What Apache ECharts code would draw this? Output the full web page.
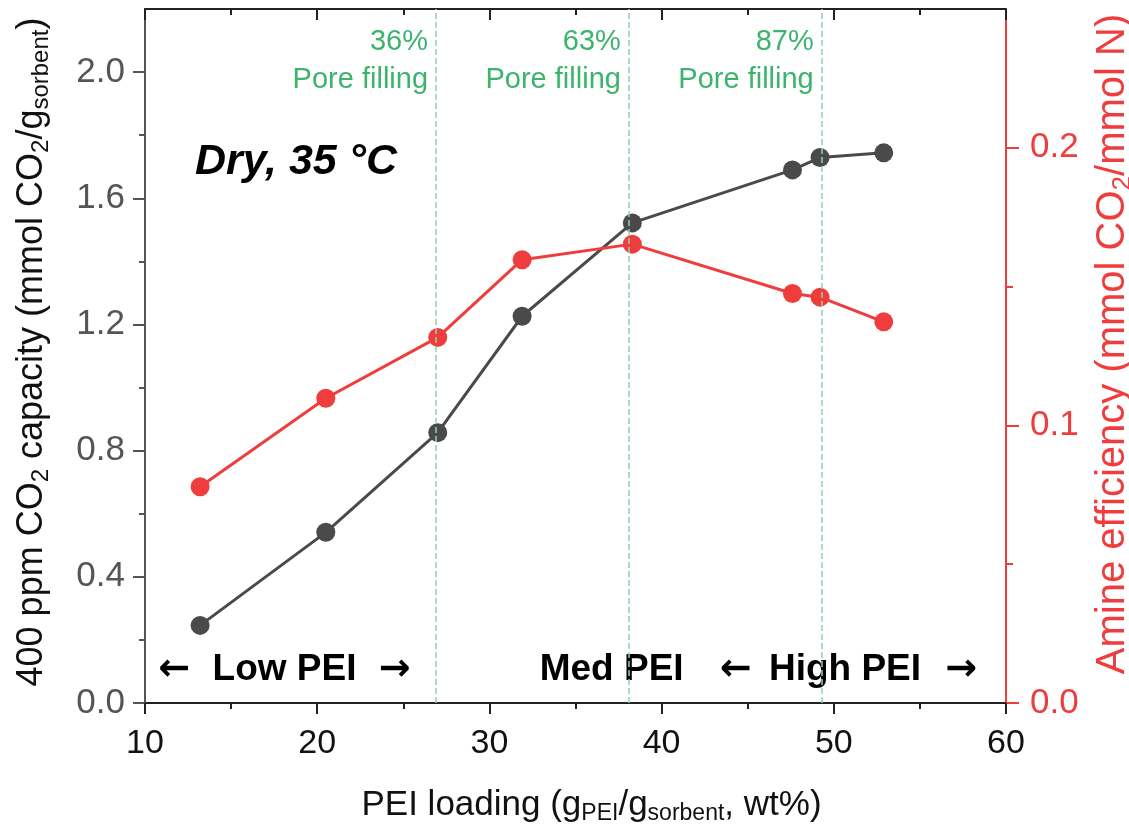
<!DOCTYPE html>
<html>
<head>
    <meta charset="utf-8">
    <title>PEI loading</title>
    <script src="https://cdn.jsdelivr.net/npm/echarts@6/dist/echarts.min.js"></script>
    <style>
        html, body { margin: 0; padding: 0; background: #fff; }
        #chart1 { width: 1129px; height: 836px; }
    </style>
</head>
<body>
<div id="chart1"></div>
<script>
    // PEI loading (wt%)
    var peiLoading = [13.2, 20.5, 27.0, 31.9, 38.3, 47.6, 49.2, 52.9];
    // 400 ppm CO2 capacity (mmol/g)
    var capacity = [0.246, 0.541, 0.857, 1.226, 1.522, 1.690, 1.729, 1.744];
    // amine efficiency (mmol CO2 / mmol N)
    var efficiency = [0.0779, 0.1098, 0.1317, 0.1597, 0.1653, 0.1475, 0.1462, 0.1373];
    // pore filling lines
    var poreX = [26.9, 38.1, 49.3];
    var poreLabels = ['36%', '63%', '87%'];
    // ticks
    var leftMajor = [0, 0.4, 0.8, 1.2, 1.6, 2.0];
    var leftMinor = [0.2, 0.6, 1.0, 1.4, 1.8];
    var rightMajor = [0, 0.1, 0.2];
    var rightMinor = [0.05, 0.15];

    var FONT = '"Liberation Sans", Arial, Helvetica, sans-serif';
    var BLACK = '#4a4a4a';
    var RED = '#ef3d3d';
    var GREEN = '#3cb46e';

    function zip(xs, ys) {
        return xs.map(function (x, i) { return [x, ys[i]]; });
    }

    var myChart1 = echarts.init(document.getElementById('chart1'));

    function subRich(color, size) {
        return { sub: { fontSize: size, verticalAlign: 'bottom', lineHeight: size + 2, color: color, fontFamily: FONT } };
    }

    myChart1.setOption({
        animation: false,
        textStyle: { fontFamily: FONT },
        grid: { left: 145, right: 123, top: 9, bottom: 133, outerBoundsMode: 'none', containLabel: false },
        xAxis: [
            {
                type: 'value', position: 'bottom', min: 10, max: 60, interval: 10,
                axisLine: { onZero: false, lineStyle: { color: '#222', width: 2 } },
                axisTick: { length: 11, lineStyle: { color: '#222', width: 2 } },
                minorTick: { show: true, splitNumber: 2, length: 6, lineStyle: { color: '#222', width: 2 } },
                splitLine: { show: false },
                axisLabel: { fontSize: 34, color: '#111', margin: 24, fontFamily: FONT },
                name: 'PEI loading (g{sub|PEI}/g{sub|sorbent}, wt%)',
                nameLocation: 'middle', nameGap: 82,
                nameTextStyle: {
                    fontSize: 35, color: '#111', lineHeight: 40, fontFamily: FONT,
                    padding: [0, 0, 0, 32], rich: subRich('#111', 23)
                }
            },
            {
                type: 'value', position: 'top', min: 10, max: 60, interval: 10,
                axisLine: { onZero: false, lineStyle: { color: '#222', width: 2 } },
                axisTick: { inside: true, length: 11, lineStyle: { color: '#222', width: 2 } },
                minorTick: { show: true, splitNumber: 2, length: 6, lineStyle: { color: '#222', width: 2 } },
                splitLine: { show: false },
                axisLabel: { show: false }
            }
        ],
        yAxis: [
            {
                type: 'value', position: 'left', min: 0, max: 2.2,
                axisLine: { show: true, onZero: false, lineStyle: { color: '#555', width: 2 } },
                axisTick: { show: true, length: 12, customValues: leftMajor, lineStyle: { color: '#555', width: 2 } },
                splitLine: { show: false },
                axisLabel: {
                    fontSize: 35, color: '#555', margin: 20, customValues: leftMajor, fontFamily: FONT,
                    formatter: function (v) { return v.toFixed(1); }
                },
                name: '400 ppm CO{sub|2} capacity (mmol CO{sub|2}/g{sub|sorbent})',
                nameLocation: 'middle', nameGap: 92, nameRotate: 90,
                nameTextStyle: {
                    fontSize: 36, color: '#111', lineHeight: 42, fontFamily: FONT,
                    padding: [0, 0, 0, 8], rich: subRich('#111', 24)
                }
            },
            {
                type: 'value', position: 'right', min: 0, max: 0.25,
                axisLine: { show: true, onZero: false, lineStyle: { color: RED, width: 2 } },
                axisTick: { show: true, length: 13, customValues: rightMajor, lineStyle: { color: RED, width: 2 } },
                splitLine: { show: false },
                axisLabel: {
                    fontSize: 35, color: RED, margin: 24, customValues: rightMajor, fontFamily: FONT,
                    formatter: function (v) { return v.toFixed(1); }
                },
                name: 'Amine efficiency (mmol CO{sub|2}/mmol N)',
                nameLocation: 'middle', nameGap: 80, nameRotate: 90,
                nameTextStyle: {
                    fontSize: 40, color: RED, lineHeight: 46, fontFamily: FONT,
                    padding: [0, 0, 0, 24], rich: subRich(RED, 26)
                }
            },
            {
                type: 'value', position: 'left', min: 0, max: 2.2,
                axisLine: { show: false, onZero: false },
                axisTick: { show: true, length: 6, customValues: leftMinor, lineStyle: { color: '#555', width: 2 } },
                splitLine: { show: false },
                axisLabel: { show: false }
            },
            {
                type: 'value', position: 'right', min: 0, max: 0.25,
                axisLine: { show: false, onZero: false },
                axisTick: { show: true, length: 7, customValues: rightMinor, lineStyle: { color: RED, width: 2 } },
                splitLine: { show: false },
                axisLabel: { show: false }
            }
        ],
        series: [
            {
                name: 'capacity', type: 'line', xAxisIndex: 0, yAxisIndex: 0, z: 3,
                data: zip(peiLoading, capacity),
                symbol: 'circle', symbolSize: 19,
                itemStyle: { color: BLACK },
                lineStyle: { color: BLACK, width: 3 },
                markLine: {
                    silent: true, symbol: 'none', label: { show: false },
                    lineStyle: { color: '#8dd4ac', type: 'dashed', width: 1.5 },
                    data: poreX.map(function (x) { return { xAxis: x }; })
                }
            },
            {
                name: 'efficiency', type: 'line', xAxisIndex: 0, yAxisIndex: 1, z: 4,
                data: zip(peiLoading, efficiency),
                symbol: 'circle', symbolSize: 19,
                itemStyle: { color: RED },
                lineStyle: { color: RED, width: 3 }
            }
        ]
    });

    // text annotations, placed in data coordinates
    function px(x, y) {
        return myChart1.convertToPixel({ xAxisIndex: 0, yAxisIndex: 0 }, [x, y]);
    }
    var graphics = [];
    poreX.forEach(function (x, i) {
        var p = px(x, 2.035);
        graphics.push({
            type: 'text', x: p[0] - 8, y: p[1],
            style: {
                text: poreLabels[i] + '\nPore filling', align: 'right', verticalAlign: 'middle',
                fill: GREEN, font: '29px ' + FONT, lineHeight: 38
            }
        });
    });
    var d = px(12.9, 1.715);
    graphics.push({
        type: 'text', x: d[0], y: d[1],
        style: { text: 'Dry, 35 °C', align: 'left', verticalAlign: 'middle', fill: '#000', font: 'italic bold 43px ' + FONT }
    });
    var regionLabels = [
        { x: 11.7, text: '\u2190' }, { x: 18.1, text: 'Low PEI' }, { x: 24.5, text: '\u2192' },
        { x: 37.1, text: 'Med PEI' },
        { x: 44.3, text: '\u2190' }, { x: 50.65, text: 'High PEI' }, { x: 57.4, text: '\u2192' }
    ];
    regionLabels.forEach(function (r) {
        var p = px(r.x, 0.105);
        var isArrow = r.text.length === 1;
        graphics.push({
            type: 'text', x: p[0], y: p[1],
            style: {
                text: r.text, align: 'center', verticalAlign: 'middle', fill: '#000',
                font: isArrow ? 'bold 38px "DejaVu Sans"' : 'bold 37px ' + FONT
            }
        });
    });
    myChart1.setOption({ graphic: graphics });
</script>
</body>
</html>
